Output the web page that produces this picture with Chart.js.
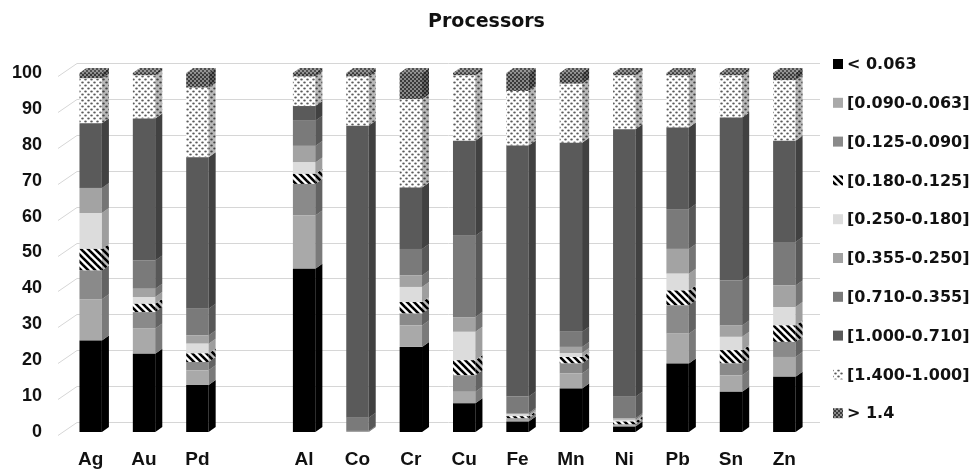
<!DOCTYPE html>
<html>
<head>
<meta charset="utf-8">
<script src="https://cdn.jsdelivr.net/npm/chart.js@4.4.1/dist/chart.umd.min.js"></script>
<style>
html,body{margin:0;padding:0;background:#fff;}
#wrap{width:973px;height:470px;}
</style>
</head>
<body>
<div id="wrap"><canvas id="c" width="973" height="470"></canvas></div>
<script>
// ---- data ----
const chartTitle = 'Processors';
const categories = ['Ag', 'Au', 'Pd', '', 'Al', 'Co', 'Cr', 'Cu', 'Fe', 'Mn', 'Ni', 'Pb', 'Sn', 'Zn'];
const seriesNames = ['< 0.063', '[0.090-0.063]', '[0.125-0.090]', '[0.180-0.125]', '[0.250-0.180]',
                     '[0.355-0.250]', '[0.710-0.355]', '[1.000-0.710]', '[1.400-1.000]', '> 1.4'];
const lt0063    = [25.5, 21.8, 13.1, null, 45.5, 0,    23.7, 8,    2.9,  12.1, 1.5,  19.1, 11.2, 15.4];
const r090_063  = [11.5, 7,    4.1,  null, 14.8, 0,    6,    3.2,  0.5,  4.2,  0.3,  8.3,  4.6,  5.5];
const r125_090  = [8,    4.6,  2.3,  null, 8.8,  0,    3.3,  4.6,  0.4,  2.8,  0.3,  7.9,  3.3,  4.2];
const r180_125  = [6,    2.3,  2.4,  null, 2.8,  0,    3.2,  4.2,  0.6,  1.8,  0.8,  4.1,  3.7,  4.6];
const r250_180  = [10,   1.9,  2.7,  null, 3.2,  0,    4.2,  7.9,  0.5,  1.1,  0.5,  4.7,  3.7,  5.1];
const r355_250  = [7,    2.3,  2.3,  null, 4.6,  0.3,  3.2,  4.1,  0.4,  1.7,  0.4,  6.9,  3.2,  6];
const r710_355  = [0,    7.9,  7.4,  null, 7,    3.7,  7.4,  22.7, 4.6,  4.2,  6,    11.1, 12.5, 12.1];
const r1000_710 = [18,   39.5, 42.2, null, 4.1,  81.3, 17.1, 26.4, 69.9, 52.7, 74.5, 22.7, 45.4, 28.2];
const r1400_1000= [12.5, 12,   19.4, null, 8.2,  13.7, 24.6, 18.2, 15.2, 16.4, 15,   14.5, 11.7, 16.9];
const gt14      = [1.5,  0.7,  4.1,  null, 1,    1,    7.3,  0.7,  5,    3,    0.7,  0.7,  0.7,  2];
const yTicks = [0, 10, 20, 30, 40, 50, 60, 70, 80, 90, 100];

const seriesValues = [lt0063, r090_063, r125_090, r180_125, r250_180, r355_250, r710_355, r1000_710, r1400_1000, gt14];

// ---- fills ----
function tile(w, h, draw) {
  const cv = document.createElement('canvas');
  cv.width = w; cv.height = h;
  const g = cv.getContext('2d');
  draw(g, w, h);
  return document.getElementById('c').getContext('2d').createPattern(cv, 'repeat');
}
const hatch = tile(7, 7, (g, w, h) => {
  g.fillStyle = '#ffffff'; g.fillRect(0, 0, w, h);
  g.strokeStyle = '#000000'; g.lineWidth = 2.6;
  for (const k of [-7, 0, 7]) { g.beginPath(); g.moveTo(k - 1, -1); g.lineTo(k + w + 1, h + 1); g.stroke(); }
});
const dots = tile(6, 6, (g, w, h) => {
  g.fillStyle = '#ffffff'; g.fillRect(0, 0, w, h);
  g.fillStyle = '#5a5a5a';
  g.beginPath(); g.ellipse(1.5, 1.5, 1.3, 0.9, 0, 0, Math.PI * 2); g.fill();
  g.beginPath(); g.ellipse(4.5, 4.5, 1.3, 0.9, 0, 0, Math.PI * 2); g.fill();
});
const checker = tile(4, 4, (g, w, h) => {
  g.fillStyle = '#8a8a8a'; g.fillRect(0, 0, w, h);
  g.fillStyle = '#3a3a3a'; g.fillRect(0, 0, 2, 2); g.fillRect(2, 2, 2, 2);
});
const fills = ['#000000', '#a9a9a9', '#8a8a8a', hatch, '#dcdcdc', '#a3a3a3', '#7a7a7a', '#5a5a5a', dots, checker];

// ---- plugins ----
const depthX = 7, depthY = 5;
const backGrid = {
  id: 'backGrid',
  beforeDatasetsDraw(chart) {
    const { ctx, chartArea: { left, right }, scales: { y } } = chart;
    ctx.save();
    ctx.strokeStyle = '#d6d6d6';
    ctx.lineWidth = 1;
    y.ticks.forEach(t => {
      const yp = Math.round(y.getPixelForValue(t.value)) + 0.5;
      ctx.beginPath();
      ctx.moveTo(left - 6, yp + 3);
      ctx.lineTo(left + 13, yp - 10);
      ctx.lineTo(right + 9, yp - 10);
      ctx.stroke();
    });
    ctx.restore();
  }
};
const bar3d = {
  id: 'bar3d',
  afterDatasetsDraw(chart) {
    const ctx = chart.ctx;
    const ds = chart.data.datasets;
    ctx.save();
    for (let j = 0; j < chart.data.labels.length; j++) {
      let top = null;
      ds.forEach((d, i) => {
        const v = d.data[j];
        if (v == null || v <= 0) return;
        const el = chart.getDatasetMeta(i).data[j];
        const { x, y, base, width } = el.getProps(['x', 'y', 'base', 'width'], true);
        const xr = x + width / 2;
        const p = new Path2D();
        p.moveTo(xr, y); p.lineTo(xr + depthX, y - depthY);
        p.lineTo(xr + depthX, base - depthY); p.lineTo(xr, base); p.closePath();
        ctx.fillStyle = d.backgroundColor; ctx.fill(p);
        ctx.fillStyle = 'rgba(0,0,0,0.28)'; ctx.fill(p);
        top = { x, y, width, fill: d.backgroundColor };
      });
      if (top) {
        const xl = top.x - top.width / 2, xr = top.x + top.width / 2;
        const p = new Path2D();
        p.moveTo(xl, top.y); p.lineTo(xl + depthX, top.y - depthY);
        p.lineTo(xr + depthX, top.y - depthY); p.lineTo(xr, top.y); p.closePath();
        ctx.fillStyle = top.fill; ctx.fill(p);
        ctx.fillStyle = 'rgba(255,255,255,0.12)'; ctx.fill(p);
      }
    }
    ctx.restore();
  }
};
const titleAndLegend = {
  id: 'titleAndLegend',
  afterDraw(chart) {
    const ctx = chart.ctx;
    ctx.save();
    ctx.fillStyle = '#111111';
    ctx.font = 'bold 19px "DejaVu Sans", sans-serif';
    ctx.textAlign = 'center';
    ctx.textBaseline = 'middle';
    ctx.fillText(chartTitle, chart.width / 2, 22);
    const mx = chart.chartArea.right + 22;
    ctx.font = 'bold 16px "DejaVu Sans", sans-serif';
    ctx.textAlign = 'left';
    chart.data.datasets.forEach((d, i) => {
      const cy = 64 + i * 38.8;
      ctx.fillStyle = d.backgroundColor;
      ctx.fillRect(mx, cy - 5, 10, 10);
      ctx.fillStyle = '#111111';
      ctx.fillText(d.label, mx + 14, cy + 1);
    });
    ctx.restore();
  }
};

const datasets = seriesNames.map((name, i) => ({
  label: name,
  data: seriesValues[i],
  backgroundColor: fills[i],
  borderWidth: 0,
  barPercentage: 0.42,
  categoryPercentage: 1
}));

new Chart(document.getElementById('c'), {
  type: 'bar',
  data: { labels: categories, datasets },
  options: {
    responsive: false,
    animation: false,
    devicePixelRatio: 1,
    layout: { padding: { left: 10, right: 162, top: 73, bottom: 0 } },
    plugins: { legend: { display: false }, title: { display: false }, tooltip: { enabled: false } },
    scales: {
      x: {
        stacked: true,
        offset: true,
        grid: { display: false, drawTicks: false },
        border: { display: false },
        ticks: { color: '#111111', font: { family: '"Liberation Sans", Arial, sans-serif', size: 19, weight: 'bold' }, padding: 16, maxRotation: 0, autoSkip: false },
        afterFit(s) { s.height = 38; }
      },
      y: {
        stacked: true,
        min: 0, max: 100,
        afterBuildTicks(s) { s.ticks = yTicks.map(v => ({ value: v })); },
        grid: { display: false, drawTicks: false },
        border: { display: false },
        ticks: { color: '#111111', font: { family: '"Liberation Sans", Arial, sans-serif', size: 18, weight: 'bold' }, padding: 22 },
        afterFit(s) { s.width = 54; }
      }
    }
  },
  plugins: [backGrid, bar3d, titleAndLegend]
});
</script>
</body>
</html>
